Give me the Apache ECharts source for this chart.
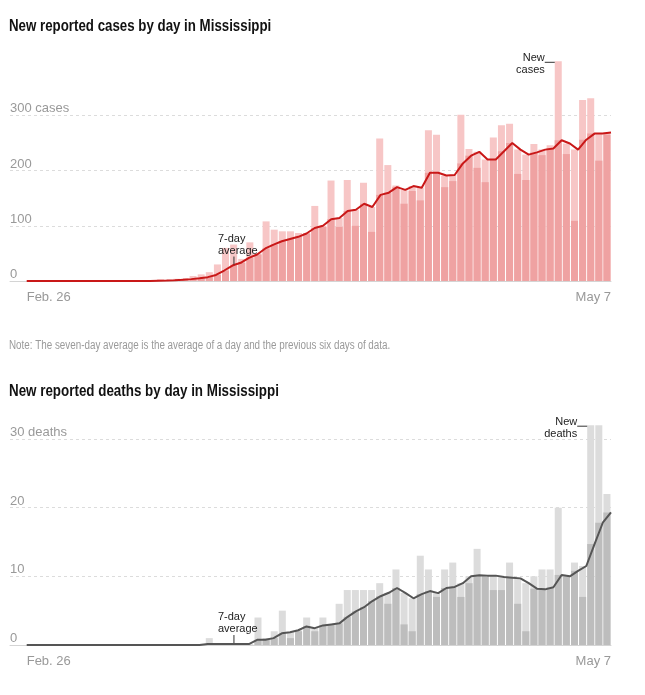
<!DOCTYPE html>
<html><head><meta charset="utf-8">
<script src="https://cdn.jsdelivr.net/npm/echarts@6/dist/echarts.min.js"></script>
<style>html,body{margin:0;padding:0;background:#fff}#c{width:645px;height:695px}</style>
</head><body><div id="c"></div>
<script>
// ---- data (Feb. 26 .. May 7, 72 days) ----
const dayLabels = ['Feb. 26', 'May 7'];
const caseTickLabels = ['0', '100', '200', '300 cases'];
const deathTickLabels = ['0', '10', '20', '30 deaths'];

const newCases = [
  0,0,0,0,0,0,0,0,0,0,0,0,0,0,
  1,0,3,2,4,5,9,12,16,30,60,66,40,70,50,108,
  93,90,90,87,87,136,98,182,98,183,100,178,89,258,210,173,
  140,163,146,273,265,170,181,301,239,205,179,260,282,285,194,183,
  248,228,246,398,230,109,328,331,218,265
];
const caseAvg = [
  0,0,0,0,0,0,0,0,0,0,0,0,0,0,
  0.1,0.1,0.6,0.9,1.4,2.1,3.4,5,7,11,19,28,33,42,48,59,
  66,72,76,80,86,96,100,112,114,127,129,140,134,156,160,170,
  165,172,169,196,196,191,192,213,227,234,220,220,235,250,238,229,
  233,238,240,255,249,238,256,267,267,269
];
const newDeaths = [
  0,0,0,0,0,0,0,0,0,0,0,0,0,0,0,0,0,0,0,0,0,0,
  1,0,0,0,0,0,4,1,2,5,1,2,4,2,4,3,6,8,8,8,8,9,6,11,3,2,13,11,7,11,12,7,
  9,14,10,8,8,12,6,2,10,11,11,20,10,12,7,32,32,22
];
const deathAvg = [
  0,0,0,0,0,0,0,0,0,0,0,0,0,0,0,0,0,0,0,0,0,0,
  0.14,0.14,0.14,0.14,0.14,0.14,0.75,0.75,1.0,1.7,1.85,2.15,2.7,2.45,2.85,3.0,3.15,4.1,4.9,5.5,6.4,7.1,7.6,8.3,7.6,6.8,7.4,7.85,7.55,8.3,8.45,9.0,
  10.0,10.15,10.1,10.1,9.9,9.8,9.7,9.0,8.2,8.1,8.4,10.2,10.0,10.8,11.5,14.7,17.8,19.3
];

const FONT = '"Liberation Sans", Arial, sans-serif';
const GRID_RIGHT = 34;

function pairs(arr) { return arr.map((v, i) => [i, v]); }
function minPairs(a, b) { return a.map((v, i) => [i, Math.min(v, b[i])]); }

function panel(k, top, height, yMax, yInterval, tickLabels, bars, avg, light, dark, lineColor) {
  const g0 = k * 2, g1 = k * 2 + 1;
  const ticks = tickLabels.map((_, i) => i * yInterval);
  const grids = [
    { left: 10, right: GRID_RIGHT, top: top, height: height },
    { left: 26.7, right: GRID_RIGHT, top: top, height: height }
  ];
  const xAxes = [
    { gridIndex: g0, type: 'value', min: 0, max: 1, axisLine: { show: true, lineStyle: { color: '#d4d4d4', width: 1 } },
      axisTick: { show: false }, axisLabel: { show: false }, splitLine: { show: false } },
    { gridIndex: g1, type: 'value', min: -0.5, max: bars.length - 0.5, axisLine: { show: false }, axisTick: { show: false },
      splitLine: { show: false },
      axisLabel: { customValues: [-0.5, bars.length - 0.5], margin: 10, color: '#999', fontSize: 13, fontFamily: FONT,
        alignMinLabel: 'left', alignMaxLabel: 'right',
        formatter: v => (v < 0 ? dayLabels[0] : dayLabels[1]) } },
    { gridIndex: g1, type: 'value', min: 0, max: bars.length - 1, show: false }
  ];
  const yAxes = [
    { gridIndex: g0, type: 'value', min: 0, max: yMax, interval: yInterval,
      axisLine: { show: false }, axisTick: { show: false },
      splitLine: { show: true, lineStyle: { type: [3, 3], width: 1, color: ['transparent', '#dcdcdc', '#dcdcdc', '#dcdcdc', 'transparent'] } },
      axisLabel: { inside: true, margin: 0, verticalAlign: 'bottom', color: '#999', fontSize: 13, fontFamily: FONT,
        formatter: v => { const j = ticks.indexOf(v); return j >= 0 ? tickLabels[j] : ''; } } },
    { gridIndex: g1, type: 'value', min: 0, max: yMax, show: false }
  ];
  const xb = k * 3 + 1, xl = k * 3 + 2, yb = k * 2 + 1;
  const barBase = { type: 'bar', xAxisIndex: xb, yAxisIndex: yb, barWidth: 7, barGap: '-100%', silent: true, animation: false };
  const series = [
    Object.assign({}, barBase, { data: pairs(bars), itemStyle: { color: light }, z: 1 }),
    Object.assign({}, barBase, { data: pairs(avg), itemStyle: { color: light }, z: 1 }),
    Object.assign({}, barBase, { data: minPairs(bars, avg), itemStyle: { color: dark }, z: 2 }),
    { type: 'line', xAxisIndex: xl, yAxisIndex: yb, data: pairs(avg), symbol: 'none', silent: true, animation: false,
      lineStyle: { color: lineColor, width: 2 }, z: 5 }
  ];
  return { grids, xAxes, yAxes, series };
}

const p1 = panel(0, 60.2, 220.8, 400, 100, caseTickLabels, newCases, caseAvg, '#f7c6c6', '#efa2a2', '#c91818');
const p2 = panel(1, 425.2, 219.8, 32, 10, deathTickLabels, newDeaths, deathAvg, '#dcdcdc', '#bdbdbd', '#555555');

const chart = echarts.init(document.getElementById('c'), null, { renderer: 'canvas' });
const option = {
  animation: false,
  backgroundColor: '#ffffff',
  grid: p1.grids.concat(p2.grids),
  xAxis: p1.xAxes.concat(p2.xAxes),
  yAxis: p1.yAxes.concat(p2.yAxes),
  series: p1.series.concat(p2.series)
};
chart.setOption(option);

// ---- texts and annotations ----
function annotations() {
  const els = [];
  const headText = (txt, y, font, color, sx) => els.push({ type: 'text', x: 9, y: y, scaleX: sx, z: 20,
    style: { text: txt, fill: color, font: font, align: 'left', verticalAlign: 'middle' } });
  headText('New reported cases by day in Mississippi', 26.5, 'bold 17px ' + FONT, '#121212', 0.782);
  headText('Note: The seven-day average is the average of a day and the previous six days of data.', 346, '12px ' + FONT, '#9a9a9a', 0.82);
  headText('New reported deaths by day in Mississippi', 391.5, 'bold 17px ' + FONT, '#121212', 0.787);

  const avgNote = (k, avg, idx) => {
    const p = chart.convertToPixel({ xAxisIndex: k * 3 + 2, yAxisIndex: k * 2 + 1 }, [idx, avg[idx]]);
    const x = p[0] + 1.5, y = p[1];
    els.push({ type: 'line', shape: { x1: x, y1: y - 1, x2: x, y2: y - 9 }, style: { stroke: '#333', lineWidth: 1 }, z: 20 });
    els.push({ type: 'text', x: x - 16, y: y - 9, z: 20,
      style: { text: '7-day\naverage', fill: '#222', font: '11px ' + FONT, lineHeight: 12, align: 'left', verticalAlign: 'bottom' } });
  };
  const newNote = (k, bars, idx, label) => {
    const p = chart.convertToPixel({ xAxisIndex: k * 3 + 1, yAxisIndex: k * 2 + 1 }, [idx, bars[idx]]);
    const left = p[0] - 3.5, top = p[1];
    els.push({ type: 'line', shape: { x1: left - 10, y1: top + 1, x2: left, y2: top + 1 }, style: { stroke: '#333', lineWidth: 1 }, z: 20 });
    els.push({ type: 'text', x: left - 10, y: top - 9, z: 20,
      style: { text: 'New\n' + label, fill: '#222', font: '11px ' + FONT, lineHeight: 12, align: 'right', verticalAlign: 'top' } });
  };
  avgNote(0, caseAvg, 25);
  avgNote(1, deathAvg, 25);
  newNote(0, newCases, 65, 'cases');
  newNote(1, newDeaths, 69, 'deaths');
  chart.setOption({ graphic: els });
}
annotations();
</script>
</body></html>
